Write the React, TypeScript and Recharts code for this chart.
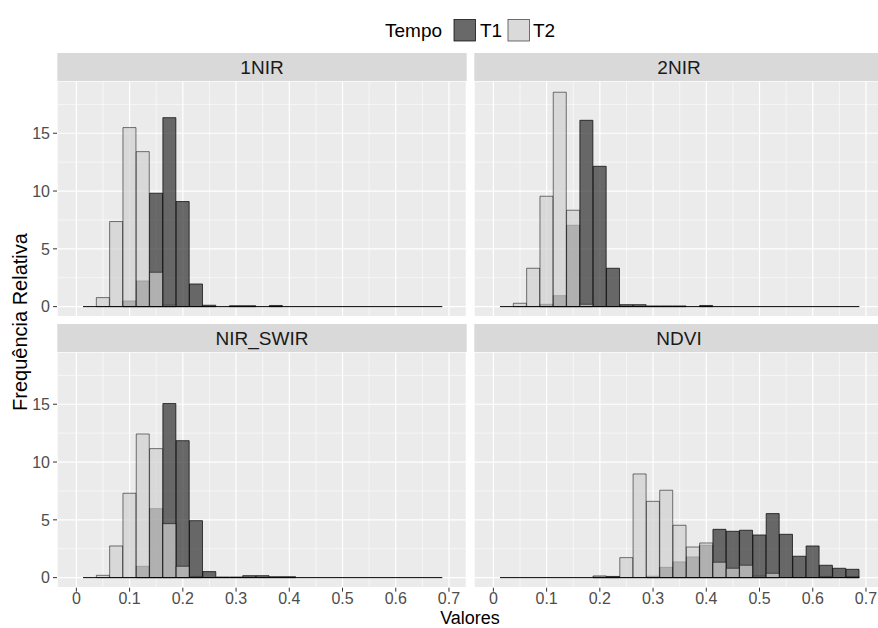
import React from 'react';
import { ComposedChart, Bar, XAxis, YAxis, CartesianGrid, ReferenceLine } from 'recharts';

// Histogram bin centres (bin width 0.025)
const binCenters = [
  0.025, 0.05, 0.075, 0.1, 0.125, 0.15, 0.175, 0.2, 0.225, 0.25,
  0.275, 0.3, 0.325, 0.35, 0.375, 0.4, 0.425, 0.45, 0.475, 0.5,
  0.525, 0.55, 0.575, 0.6, 0.625, 0.65, 0.675,
];
const binWidth = 0.025;

// Relative frequency (density) per bin
const nir1T1 = [0, 0, 0, 0.49, 2.22, 9.81, 16.35, 9.09, 1.96, 0.12, 0, 0.08, 0.08, 0, 0.1, 0, 0, 0, 0, 0, 0, 0, 0, 0, 0, 0, 0];
const nir1T2 = [0, 0.78, 7.36, 15.49, 13.41, 2.97, 0.12, 0, 0, 0, 0, 0, 0, 0, 0, 0, 0, 0, 0, 0, 0, 0, 0, 0, 0, 0, 0];
const nir2T1 = [0, 0, 0, 0.2, 0.95, 7.04, 16.12, 12.14, 3.32, 0.17, 0.17, 0.06, 0.06, 0.06, 0, 0.1, 0, 0, 0, 0, 0, 0, 0, 0, 0, 0, 0];
const nir2T2 = [0, 0.29, 3.32, 9.55, 18.55, 8.34, 0.2, 0, 0, 0, 0, 0, 0, 0, 0, 0, 0, 0, 0, 0, 0, 0, 0, 0, 0, 0, 0];
const swirT1 = [0, 0, 0, 0, 0.98, 5.97, 15.06, 11.85, 4.93, 0.52, 0.05, 0.05, 0.17, 0.17, 0.08, 0.08, 0, 0, 0, 0, 0, 0, 0, 0, 0, 0, 0];
const swirT2 = [0, 0.2, 2.74, 7.3, 12.43, 11.16, 4.67, 0.98, 0.1, 0, 0, 0, 0, 0, 0, 0, 0, 0, 0, 0, 0, 0, 0, 0, 0, 0, 0];
const ndviT1 = [0, 0, 0, 0, 0, 0, 0, 0.1, 0.1, 0, 0, 0.12, 0.89, 1.36, 1.79, 2.8, 4.18, 4.01, 4.1, 3.69, 5.54, 3.75, 1.85, 2.74, 1.07, 0.81, 0.72];
const ndviT2 = [0, 0, 0, 0, 0, 0, 0, 0.15, 0.1, 1.73, 8.97, 6.6, 7.56, 4.53, 2.65, 3.0, 1.33, 0.81, 1.07, 0.12, 0.37, 0, 0, 0, 0.1, 0, 0.1];

const panelNames = ['1NIR', '2NIR', 'NIR_SWIR', 'NDVI'];
const xMajor = [0, 0.1, 0.2, 0.3, 0.4, 0.5, 0.6, 0.7];
const xMinor = [0.05, 0.15, 0.25, 0.35, 0.45, 0.55, 0.65];
const yMajor = [0, 5, 10, 15];
const yMinor = [2.5, 7.5, 12.5, 17.5];
const xDomain = [-0.0364, 0.7327];
const yDomain = [-0.87, 19.52];

const FONT = '"Liberation Sans", Arial, sans-serif';
const T1_FILL = '#2f2f2f';
const T2_FILL = '#d0d0d0';
const ALPHA = 0.7;

const PANEL_W = 409.4;
const PANEL_H = 235.7;
const Y_AXIS_W = 57;
const X_AXIS_H = 40;

type PanelProps = { t1: number[]; t2: number[]; showY: boolean; showX: boolean };

function Panel({ t1, t2, showY, showX }: PanelProps) {
  const data = binCenters.map((x, i) => ({ x, t1: t1[i], t2: t2[i] }));
  const width = PANEL_W + (showY ? Y_AXIS_W : 0);
  const height = PANEL_H + (showX ? X_AXIS_H : 0);
  const firstEdge = binCenters[0] - binWidth / 2;
  const lastEdge = binCenters[binCenters.length - 1] + binWidth / 2;
  const tickStyle = { fill: '#4D4D4D', fontSize: 16, fontFamily: FONT };
  return (
    <ComposedChart
      width={width}
      height={height}
      data={data}
      margin={{ top: 0, right: 0, bottom: 0, left: 0 }}
      barCategoryGap={0}
      barGap={0}
    >
      <XAxis xAxisId="main" dataKey="x" type="number" domain={xDomain} allowDataOverflow ticks={xMajor} interval={0}
        hide={!showX} height={X_AXIS_H} tick={tickStyle} tickSize={4} tickMargin={1}
        axisLine={false} tickLine={{ stroke: '#333333', strokeWidth: 1 }} />
      <XAxis xAxisId="t2" dataKey="x" type="number" domain={xDomain} allowDataOverflow hide />
      <XAxis xAxisId="minor" dataKey="x" type="number" domain={xDomain} allowDataOverflow ticks={xMinor} interval={0} hide />
      <YAxis yAxisId="main" type="number" domain={yDomain} allowDataOverflow ticks={yMajor} interval={0}
        hide={!showY} width={Y_AXIS_W} tick={tickStyle} tickSize={4} tickMargin={3}
        axisLine={false} tickLine={{ stroke: '#333333', strokeWidth: 1 }} />
      <YAxis yAxisId="minor" type="number" domain={yDomain} allowDataOverflow ticks={yMinor} interval={0} hide />
      <CartesianGrid xAxisId="minor" yAxisId="minor" fill="#EBEBEB" stroke="#FFFFFF" strokeWidth={0.6} />
      <CartesianGrid xAxisId="main" yAxisId="main" stroke="#FFFFFF" strokeWidth={1.2} />
      <Bar xAxisId="main" yAxisId="main" dataKey="t1" fill={T1_FILL} fillOpacity={ALPHA}
        stroke="#000000" strokeWidth={0.7} isAnimationActive={false} />
      <Bar xAxisId="t2" yAxisId="main" dataKey="t2" fill={T2_FILL} fillOpacity={ALPHA}
        stroke="#000000" strokeOpacity={0.75} strokeWidth={0.7} isAnimationActive={false} />
      <ReferenceLine xAxisId="main" yAxisId="main"
        segment={[{ x: firstEdge, y: 0 }, { x: lastEdge, y: 0 }]}
        stroke="#000000" strokeWidth={1} />
    </ComposedChart>
  );
}

export default function App() {
  const leftX = 57.3;
  const rightX = 474.3;
  const topPanelY = 81;
  const botPanelY = 352;
  const stripH = 28;
  const strips = [
    { name: panelNames[0], x: leftX, y: topPanelY - stripH },
    { name: panelNames[1], x: rightX, y: topPanelY - stripH },
    { name: panelNames[2], x: leftX, y: botPanelY - stripH },
    { name: panelNames[3], x: rightX, y: botPanelY - stripH },
  ];
  return (
    <div style={{ position: 'absolute', left: 0, top: 0, width: 878, height: 628, overflow: 'hidden', background: '#FFFFFF', fontFamily: FONT }}>
      <svg width={878} height={628} style={{ position: 'absolute', left: 0, top: 0 }}>
        {strips.map((s) => (
          <g key={s.name}>
            <rect x={s.x} y={s.y} width={PANEL_W} height={stripH} fill="#D9D9D9" />
            <text x={s.x + PANEL_W / 2} y={s.y + stripH / 2 + 6.5} textAnchor="middle" fontSize={19} fill="#1A1A1A" fontFamily={FONT}>{s.name}</text>
          </g>
        ))}
        {/* legend */}
        <text x={385} y={36.5} fontSize={19} fill="#000" fontFamily={FONT}>Tempo</text>
        <rect x={453.5} y={19} width={22.5} height={22.5} fill="#F2F2F2" />
        <rect x={454} y={19.5} width={21.5} height={21.5} fill={T1_FILL} fillOpacity={ALPHA} stroke="#000" strokeWidth={0.7} />
        <text x={480} y={36.5} fontSize={19} fill="#000" fontFamily={FONT}>T1</text>
        <rect x={507.5} y={19} width={22.5} height={22.5} fill="#F2F2F2" />
        <rect x={508} y={19.5} width={21.5} height={21.5} fill={T2_FILL} fillOpacity={ALPHA} stroke="#000" strokeOpacity={0.75} strokeWidth={0.7} />
        <text x={533} y={36.5} fontSize={19} fill="#000" fontFamily={FONT}>T2</text>
        {/* axis titles */}
        <text x={470} y={624} textAnchor="middle" fontSize={18} fill="#000" fontFamily={FONT}>Valores</text>
        <text transform="translate(27,322) rotate(-90)" x={0} y={0} textAnchor="middle" fontSize={20} fill="#000" fontFamily={FONT}>Frequência Relativa</text>
      </svg>
      <div style={{ position: 'absolute', left: leftX - Y_AXIS_W, top: topPanelY }}>
        <Panel t1={nir1T1} t2={nir1T2} showY showX={false} />
      </div>
      <div style={{ position: 'absolute', left: rightX, top: topPanelY }}>
        <Panel t1={nir2T1} t2={nir2T2} showY={false} showX={false} />
      </div>
      <div style={{ position: 'absolute', left: leftX - Y_AXIS_W, top: botPanelY }}>
        <Panel t1={swirT1} t2={swirT2} showY showX />
      </div>
      <div style={{ position: 'absolute', left: rightX, top: botPanelY }}>
        <Panel t1={ndviT1} t2={ndviT2} showY={false} showX />
      </div>
    </div>
  );
}
